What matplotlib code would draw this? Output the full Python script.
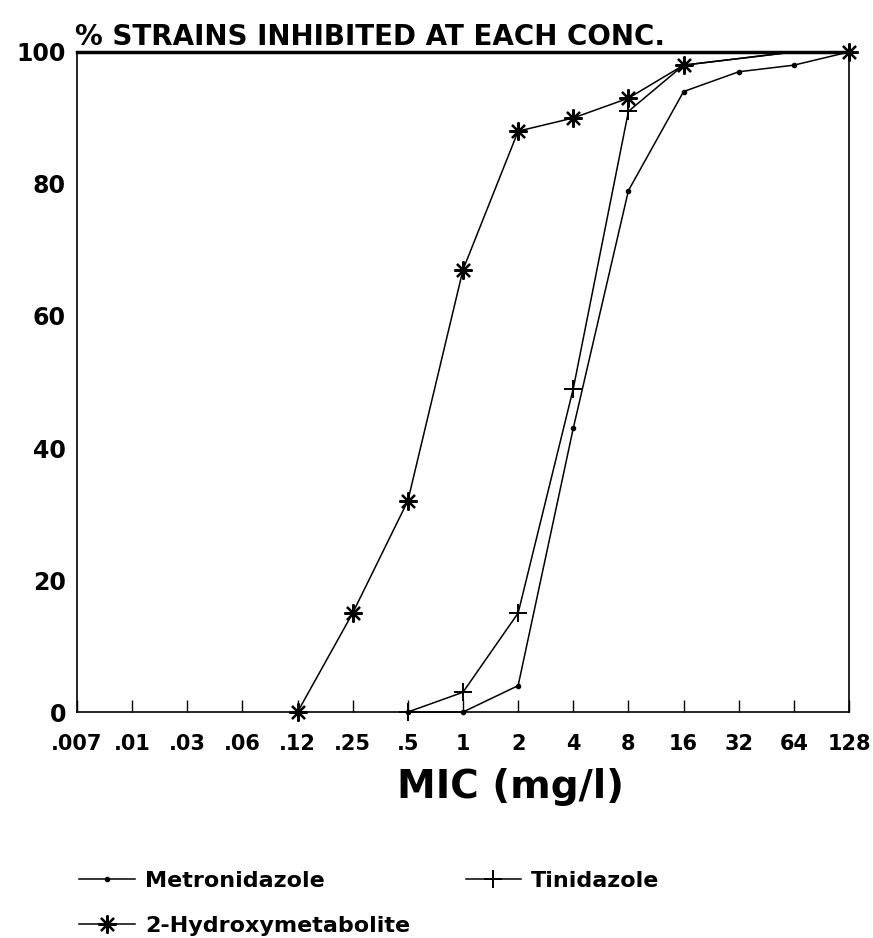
import matplotlib
matplotlib.use("Agg")
import matplotlib.pyplot as plt

# ── Data ──────────────────────────────────────────────────────────────────────

conc_labels = [".007", ".01", ".03", ".06", ".12", ".25", ".5", "1",
               "2", "4", "8", "16", "32", "64", "128"]

# positions are indexes into conc_labels
metro_pos  = [6, 7, 8, 9, 10, 11, 12, 13, 14]
metro_pct  = [0, 0, 4, 43, 79, 94, 97, 98, 100]

tini_pos   = [6, 7, 8, 9, 10, 11, 12, 13, 14]
tini_pct   = [0, 3, 15, 49, 91, 98, 99, 100, 100]

hydro_pos  = [4, 5, 6, 7, 8, 9, 10, 11, 12, 13, 14]
hydro_pct  = [0, 15, 32, 67, 88, 90, 93, 98, 99, 100, 100]

y_ticks = [0, 20, 40, 60, 80, 100]

# ── Plot ──────────────────────────────────────────────────────────────────────

plt.rcParams["font.family"] = ["DejaVu Sans"]
plt.rcParams["font.weight"] = "bold"

fig = plt.figure(figsize=(8.73, 9.38), dpi=100)
ax = fig.add_axes([0.0882, 0.2409, 0.8843, 0.7037])

ax.plot(metro_pos, metro_pct, color="black", linewidth=1.1,
        marker="o", markersize=3, clip_on=False, label="Metronidazole",
        markevery=[0, 1, 2, 3, 4, 5, 6, 7])
ax.plot(tini_pos, tini_pct, color="black", linewidth=1.1,
        marker="+", markersize=13, markeredgewidth=1.4, clip_on=False,
        label="Tinidazole", markevery=[0, 1, 2, 3, 4])
ax.plot(hydro_pos, hydro_pct, color="black", linewidth=1.1,
        marker=(8, 2, 0), markersize=13, markeredgewidth=1.6, clip_on=False,
        label="2-Hydroxymetabolite", markevery=[0, 1, 2, 3, 4, 5, 6, 7, 10])

ax.set_xlim(0, len(conc_labels) - 1)
ax.set_ylim(0, 100)
ax.set_xticks(range(len(conc_labels)))
ax.set_xticklabels(conc_labels)
ax.set_yticks(y_ticks)

ax.tick_params(axis="x", direction="in", length=9, width=1, pad=16,
               labelsize=15)
ax.tick_params(axis="y", length=0, pad=8, labelsize=17)
for lbl in ax.get_xticklabels() + ax.get_yticklabels():
    lbl.set_fontweight("bold")

for side in ["left", "right", "bottom"]:
    ax.spines[side].set_linewidth(1.2)
ax.spines["top"].set_linewidth(2.5)

ax.set_xlabel("MIC (mg/l)", fontsize=28, fontweight="bold")
ax.xaxis.set_label_coords(0.561, -0.085)
ax.set_title("% STRAINS INHIBITED AT EACH CONC.", loc="left",
             fontsize=20, fontweight="bold", pad=5, x=-0.003)

h, l = ax.get_legend_handles_labels()
order = [0, 2, 1]
fig.legend([h[i] for i in order], [l[i] for i in order],
           loc="upper left", bbox_to_anchor=(0.068, 0.093), ncol=2,
           frameon=False, fontsize=16, handlelength=2.5, handletextpad=0.45,
           columnspacing=2.5, labelspacing=1.12)

plt.savefig("out.png")
plt.close()
